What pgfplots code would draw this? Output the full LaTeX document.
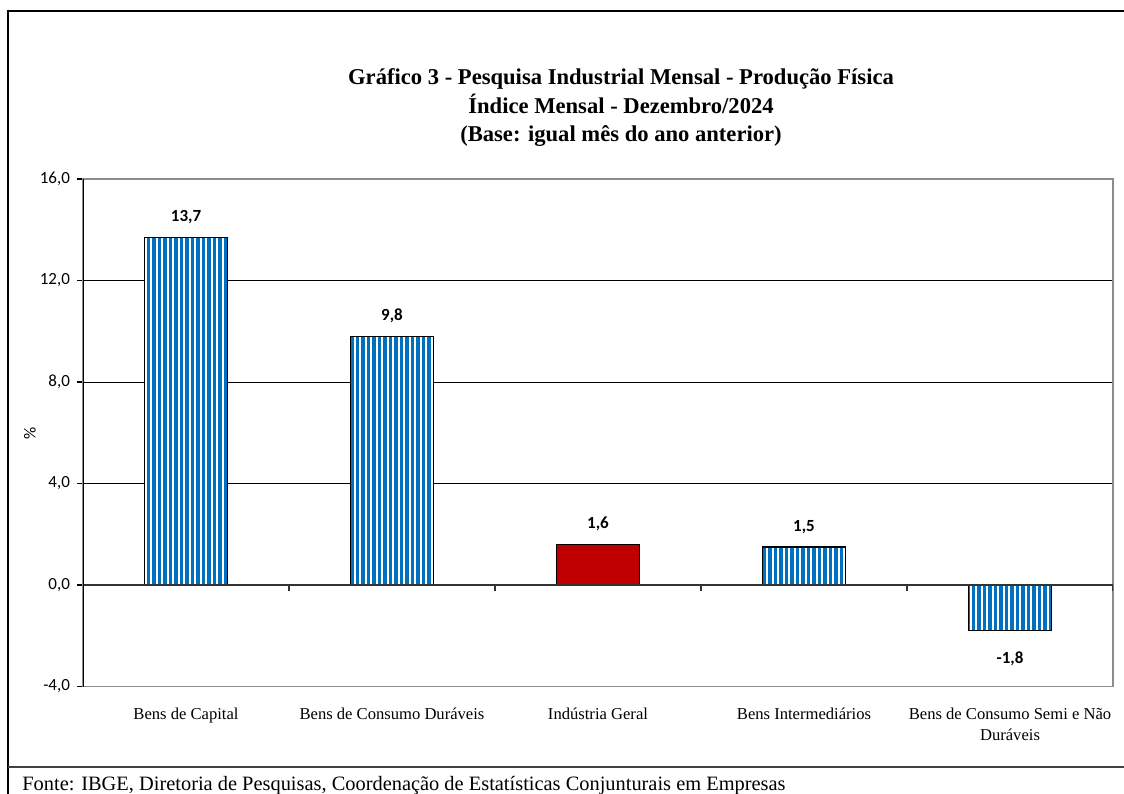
\documentclass[border=0pt]{standalone}
\usepackage{pgfplots}
\pgfplotsset{compat=1.18}
\usepackage{pgfplotstable}
\usepackage{fontspec}
\setmainfont{Liberation Serif}
\newfontfamily\calib{Carlito}
\usetikzlibrary{patterns.meta}
\definecolor{barblue}{RGB}{0,112,192}
\definecolor{barred}{RGB}{192,0,0}

\pgfplotstableread{
x y lab
0 13.7 13,7
1 9.8 9,8
3 1.5 1,5
}\bluedata
\pgfplotstableread{
x y lab
4 -1.8 -1,8
}\bluenegdata
\pgfplotstableread{
x y lab
2 1.6 1,6
}\reddata

\begin{document}
\begin{tikzpicture}
\useasboundingbox (0,0) rectangle (562pt,396.5pt);
\draw[line width=1pt] (4pt,-2pt) -- (4pt,391pt) -- (570pt,391pt);
\draw[line width=1pt, black!75] (4pt,13pt) -- (570pt,13pt);
\node[anchor=base west, font=\fontsize{10.2}{12}\selectfont, inner sep=0pt] at (11pt,1.2pt) {Fonte: IBGE, Diretoria de Pesquisas, Coordenação de Estatísticas Conjunturais em Empresas};
\node[anchor=base, font=\bfseries\fontsize{11.3}{13}\selectfont, inner sep=0pt] at (621pt/2,354pt) {Gráfico 3 - Pesquisa Industrial Mensal - Produção Física};
\node[anchor=base, font=\bfseries\fontsize{11.3}{13}\selectfont, inner sep=0pt] at (621pt/2,339.5pt) {Índice Mensal - Dezembro/2024};
\node[anchor=base, font=\bfseries\fontsize{11.3}{13}\selectfont, inner sep=0pt] at (621pt/2,325.5pt) {(Base: igual mês do ano anterior)};
\node[rotate=90, font=\calib\fontsize{8.5}{10}\selectfont, inner sep=0pt] at (15pt,180pt) {\%};
\begin{axis}[
  at={(41.5pt,53.25pt)}, anchor=south west,
  scale only axis, width=515pt, height=253.75pt,
  xmin=-0.5, xmax=4.5, ymin=-4, ymax=16,
  ybar, bar width=0.4,
  xtick={0,1,2,3,4},
  xticklabels={Bens de Capital, Bens de Consumo Duráveis, Indústria Geral, Bens Intermediários, {Bens de Consumo Semi e Não\\Duráveis}},
  xticklabel style={font=\fontsize{8.3}{10.5}\selectfont, align=center, yshift=-4pt},
  major x tick style={draw=none},
  ytick={-4,0,4,8,12,16},
  yticklabels={{-4,0},{0,0},{4,0},{8,0},{12,0},{16,0}},
  yticklabel style={font=\calib\fontsize{8.5}{10}\selectfont},
  tick pos=left, tick align=outside, major tick length=3pt,
  major tick style={black, line width=0.6pt},
  ymajorgrids, grid style={black, line width=0.5pt},
  axis line style={black!45, line width=0.6pt},
  nodes near coords, point meta=explicit symbolic,
  every node near coord/.append style={font=\calib\bfseries\fontsize{8.5}{10}\selectfont, inner sep=6.5pt, black},
]
\addplot[draw=black, line width=0.6pt, bar shift=0pt,
  preaction={fill=white},
  preaction={pattern={Lines[angle=90,distance=2.75pt,line width=1.55pt]}, pattern color=barblue}]
  table[x=x,y=y,meta=lab]{\bluedata};
\addplot[draw=black, line width=0.6pt, bar shift=0pt,
  preaction={fill=white},
  preaction={pattern={Lines[angle=90,distance=2.75pt,line width=1.55pt]}, pattern color=barblue},
  every node near coord/.append style={anchor=north, inner sep=10pt}]
  table[x=x,y=y,meta=lab]{\bluenegdata};
\addplot[draw=black, line width=0.6pt, fill=barred, bar shift=0pt]
  table[x=x,y=y,meta=lab]{\reddata};
\draw[black!80, line width=0.8pt] (axis cs:-0.5,0) -- (axis cs:4.5,0);
\draw[black!80, line width=0.6pt] (axis cs:0.5,0) -- ([yshift=-3pt]axis cs:0.5,0);
\draw[black!80, line width=0.6pt] (axis cs:1.5,0) -- ([yshift=-3pt]axis cs:1.5,0);
\draw[black!80, line width=0.6pt] (axis cs:2.5,0) -- ([yshift=-3pt]axis cs:2.5,0);
\draw[black!80, line width=0.6pt] (axis cs:3.5,0) -- ([yshift=-3pt]axis cs:3.5,0);
\draw[black!80, line width=0.6pt] (axis cs:4.5,0) -- ([yshift=-3pt]axis cs:4.5,0);
\draw[black, line width=0.7pt] (axis cs:-0.5,-4) -- (axis cs:-0.5,16);
\end{axis}
\end{tikzpicture}
\end{document}
